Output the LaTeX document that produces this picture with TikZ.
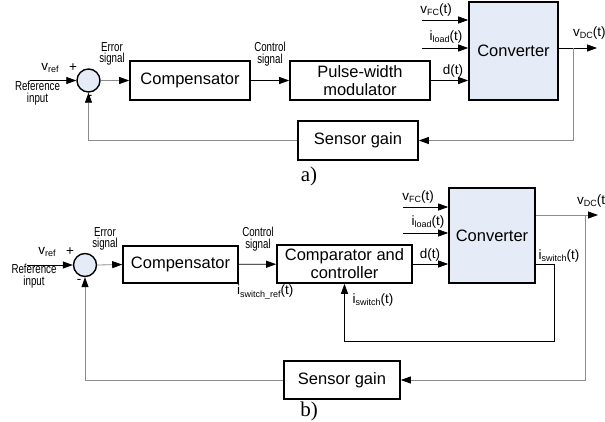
\documentclass[tikz,border=0pt]{standalone}
\usepackage{fontspec}
\setmainfont{Liberation Sans}
\newfontfamily\serifcap{Liberation Serif}
\newfontfamily\narrowlbl[FakeStretch=0.75]{Liberation Sans}
\usetikzlibrary{arrows.meta,positioning}
\definecolor{convfill}{RGB}{230,236,247}
\definecolor{loopgray}{RGB}{140,140,140}
\newcommand{\lowidx}[1]{\raisebox{-0.35ex}{\fontsize{9}{9}\selectfont #1}}

\begin{document}
\begin{tikzpicture}[x=1pt,y=-1pt,
  block/.style={draw,line width=1.6pt,fill=white,align=center,inner sep=0pt,
    font=\fontsize{16.5}{18}\selectfont},
  conv/.style={block,fill=convfill},
  sum/.style={draw,circle,line width=1.4pt,fill=convfill,minimum size=23pt,inner sep=0pt},
  lbl/.style={inner sep=0pt,font=\fontsize{13.5}{15}\selectfont},
  narrow/.style={inner sep=0pt,align=center,font=\narrowlbl\fontsize{13}{11.5}\selectfont},
  figcap/.style={inner sep=0pt,font=\serifcap\fontsize{21}{21}\selectfont},
  wire/.style={line width=0.8pt,-{Triangle[length=10pt,width=7pt,color=black]}},
  fb/.style={wire,draw=loopgray}]
  \useasboundingbox (0,0) rectangle (605,421);

  \node[sum] (sumA) at (88.5,80.5) {};
  \node[block,minimum width=120pt,minimum height=39pt] (compA) at (190,80.5) {Compensator};
  \node[block,minimum width=140pt,minimum height=39pt] (pwmA) at (360,80.5) {Pulse-width\\modulator};
  \node[conv,minimum width=89pt,minimum height=98pt] (convA) at (513.5,51) {Converter};
  \node[block,minimum width=120pt,minimum height=39pt] (sensA) at (358,140.5) {Sensor gain};
  \coordinate (inA) at (30,80.5);
  \coordinate (vfcA) at (422,20);
  \coordinate (ildA) at (422,48);
  \coordinate (outA) at (597,48);
  \coordinate (tapA) at (573,48);

  \draw[wire] (inA) -- (sumA.west);
  \draw[fb] (sumA.east) -- (compA.west);
  \draw[wire] (compA) -- (pwmA);
  \draw[wire] (pwmA.east) -- (pwmA.east -| convA.west);
  \draw[wire] (vfcA) -- (vfcA -| convA.west);
  \draw[wire] (ildA) -- (ildA -| convA.west);
  \draw[wire] (outA -| convA.east) -- (outA);
  \draw[fb] (tapA) -- (tapA |- sensA) -- (sensA.east);
  \draw[fb] (sensA.west) -- (sumA |- sensA) -- (sumA.south);

  \node[lbl] (vrefA) at (50,68) {v\lowidx{ref}};
  \node[lbl] (plusA) at (73,68) {+};
  \node[lbl] (minusA) at (90,97) {-};
  \node[narrow] (refinA) at (37.5,93) {Reference\\input};
  \node[narrow] (errA) at (112,54) {Error\\signal};
  \node[narrow] (ctrlA) at (270,54) {Control\\signal};
  \node[lbl] (dA) at (453,71) {d(t)};
  \node[lbl] (vfcAlbl) at (436,10) {v\lowidx{FC}(t)};
  \node[lbl] (ildAlbl) at (446,37) {i\lowidx{load}(t)};
  \node[lbl,anchor=west] (vdcAlbl) at (573,33) {v\lowidx{DC}(t)};
  \node[figcap] (capA) at (309,176) {a)};

  \node[sum] (sumB) at (85,265) {};
  \node[block,minimum width=115pt,minimum height=37pt] (compB) at (180.5,264.5) {Compensator};
  \node[block,minimum width=135pt,minimum height=38pt] (comparB) at (344.5,264) {Comparator and\\controller};
  \node[conv,minimum width=86pt,minimum height=95pt] (convB) at (492,235.5) {Converter};
  \node[block,minimum width=116pt,minimum height=38pt] (sensB) at (342,380) {Sensor gain};
  \coordinate (inB) at (27,265);
  \coordinate (vfcB) at (403,207);
  \coordinate (ildB) at (403,233);
  \coordinate (outB) at (598,215);
  \coordinate (tapB) at (585,215);
  \coordinate (iswB) at (554,341);

  \draw[wire] (inB) -- (sumB.west);
  \draw[fb] (sumB.east) -- (compB.west);
  \draw[wire] (compB) -- (comparB);
  \draw[wire] (comparB) -- (comparB -| convB.west);
  \draw[wire] (vfcB) -- (vfcB -| convB.west);
  \draw[wire] (ildB) -- (ildB -| convB.west);
  \draw[fb] (outB -| convB.east) -- (outB);
  \draw[fb] (tapB) -- (tapB |- sensB) -- (sensB.east);
  \draw[fb] (sensB.west) -- (sumB |- sensB) -- (sumB.south);
  \draw[wire] (convB.east |- comparB) -- (iswB |- comparB) -- (iswB) -- (iswB -| comparB) -- (comparB.south);

  \node[lbl] (vrefB) at (47,252) {v\lowidx{ref}};
  \node[lbl] (plusB) at (70,252) {+};
  \node[lbl] (minusB) at (79,281) {-};
  \node[narrow] (refinB) at (34,276) {Reference\\input};
  \node[narrow] (errB) at (105,239) {Error\\signal};
  \node[narrow] (ctrlB) at (258,239) {Control\\signal};
  \node[lbl,anchor=west] (iswrefB) at (237,292) {i\lowidx{switch\_ref}(t)};
  \node[lbl] (dB) at (430,255) {d(t)};
  \node[lbl] (vfcBlbl) at (418,197) {v\lowidx{FC}(t)};
  \node[lbl] (ildBlbl) at (428,222) {i\lowidx{load}(t)};
  \node[lbl,anchor=west] (vdcBlbl) at (577,201) {v\lowidx{DC}(t)};
  \node[lbl] (iswoutB) at (559,256) {i\lowidx{switch}(t)};
  \node[lbl] (iswinB) at (373,300) {i\lowidx{switch}(t)};
  \node[figcap] (capB) at (309,411) {b)};
\end{tikzpicture}
\end{document}
